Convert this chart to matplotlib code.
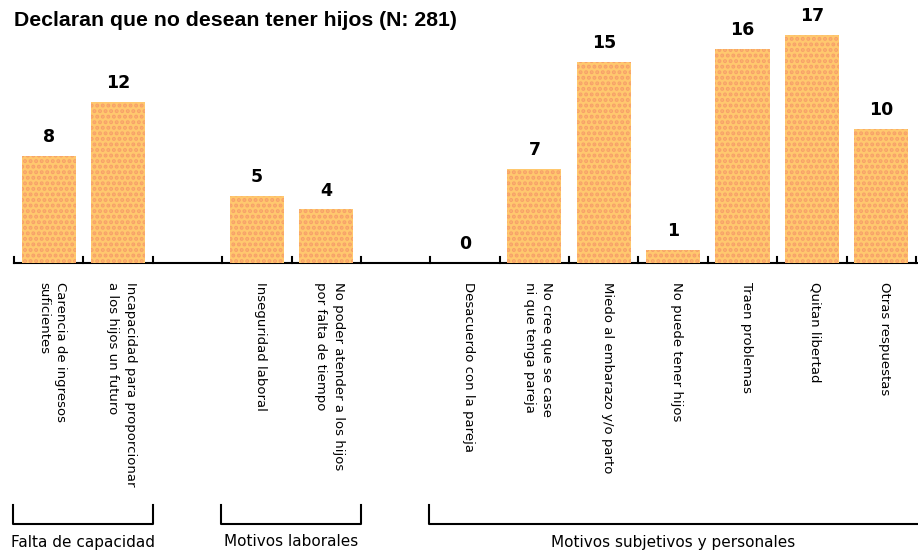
import matplotlib.pyplot as plt
import matplotlib as mpl

mpl.rcParams['hatch.linewidth'] = 2.0

# data: one slot per category, None = empty slot
slots = list(range(13))
values = [8, 12, None, 5, 4, None, 0, 7, 15, 1, 16, 17, 10]
labels = [
    'Carencia de ingresos\nsuficientes',
    'Incapacidad para proporcionar\na los hijos un futuro',
    '',
    'Inseguridad laboral',
    'No poder atender a los hijos\npor falta de tiempo',
    '',
    'Desacuerdo con la pareja',
    'No cree que se case\nni que tenga pareja',
    'Miedo al embarazo y/o parto',
    'No puede tener hijos',
    'Traen problemas',
    'Quitan libertad',
    'Otras respuestas',
]
groups = ['Falta de capacidad', 'Motivos laborales', 'Motivos subjetivos y personales']
group_span = [(0, 1), (3, 4), (6, 12)]

W, H = 918, 554
fig = plt.figure(figsize=(W / 100, H / 100), dpi=100)

# axes: slots -0.5..12.5 map to px 14..916, baseline at px 263
x0, x1 = 14, 916
base = 263
unit = 13.4
ymax = 18
ax = fig.add_axes([x0 / W, (H - base) / H, (x1 - x0) / W, ymax * unit / H])
ax.set_xlim(-0.5, 12.5)
ax.set_ylim(0, ymax)
ax.axis('off')

# baseline and ticks
ax.plot([-0.5, 12.5 + 2 / 70], [0, 0], color='black', lw=1.5, clip_on=False, zorder=1)
for b in range(14):
    ax.plot([b - 0.5, b - 0.5], [0, 0.45], color='black', lw=1.5, clip_on=False, zorder=1)

for s, v, lab in zip(slots, values, labels):
    if v is not None:
        ax.bar(s, v, width=0.78, color='#FFC86E', edgecolor='#F7A06A', hatch='...',
               lw=0, zorder=2)
        ax.annotate(str(v), (s, v), xytext=(0, 7), textcoords='offset points',
                    ha='center', va='bottom', fontsize=12.5, fontweight='bold',
                    family='DejaVu Sans')
    if lab:
        ax.text(s + 0.05, -1.45, lab, rotation=270, rotation_mode='anchor',
                ha='left', va='center', fontsize=9.5, linespacing=1.45,
                family='DejaVu Sans')

# group brackets
def px_to_fig(x, y):
    return x / W, (H - y) / H

slot_w = (x1 - x0) / 13
for name, (a, b) in zip(groups, group_span):
    left = x0 + a * slot_w - 1
    right = x0 + (b + 1) * slot_w
    open_right = b == 12
    if open_right:
        right = W
    xs = [left, left, right] + ([] if open_right else [right])
    ys = [505, 524, 524] + ([] if open_right else [505])
    fx, fy = zip(*[px_to_fig(x, y) for x, y in zip(xs, ys)])
    fig.add_artist(plt.Line2D(fx, fy, color='black', lw=1.5))
    cx = (left + right) / 2 if not open_right else 673
    tx, ty = px_to_fig(cx if a != 0 else 83, 542)
    fig.text(tx, ty, name, ha='center', va='center', fontsize=11,
             family='DejaVu Sans')

fig.text(14 / W, (H - 20) / H, 'Declaran que no desean tener hijos (N: 281)',
         ha='left', va='center', fontsize=15.3, fontweight='bold',
         family='Liberation Sans')

fig.savefig('out.png', dpi=100, facecolor='white')
